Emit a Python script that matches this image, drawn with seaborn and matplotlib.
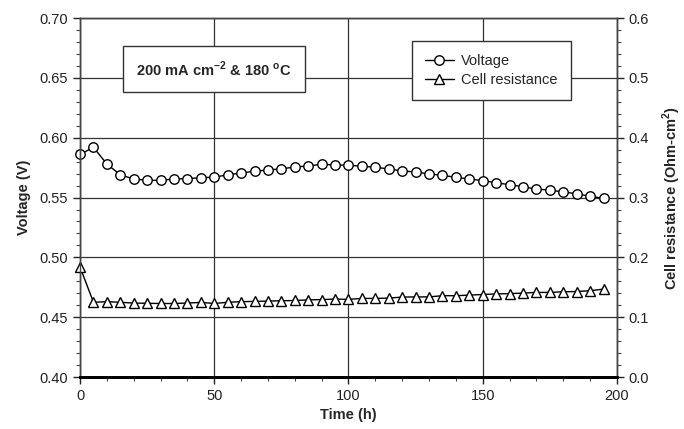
import matplotlib
matplotlib.use('Agg')
import numpy as np
import pandas as pd
import matplotlib.pyplot as plt
import seaborn as sns
from matplotlib.ticker import MultipleLocator

# Time points (h)
time_h = list(range(0, 200, 5))

# Cell voltage (V)
voltage = [0.586, 0.592, 0.578, 0.569, 0.5655, 0.5644, 0.5644, 0.5655, 0.5658, 0.5666,
           0.567, 0.569, 0.5705, 0.572, 0.573, 0.574, 0.5755, 0.5764, 0.5778, 0.5772,
           0.577, 0.5762, 0.5753, 0.5739, 0.5722, 0.5714, 0.5697, 0.5686, 0.5669, 0.5655,
           0.5641, 0.5624, 0.5607, 0.5591, 0.557, 0.5563, 0.5546, 0.5532, 0.551, 0.5494]

# Cell resistance (Ohm-cm2)
resistance = [0.184, 0.125, 0.126, 0.125, 0.1237, 0.1233, 0.123, 0.123, 0.1237, 0.1248,
              0.123, 0.125, 0.126, 0.1265, 0.127, 0.1275, 0.128, 0.129, 0.1295, 0.1304,
              0.1298, 0.1315, 0.1315, 0.132, 0.1337, 0.134, 0.134, 0.136, 0.136, 0.137,
              0.138, 0.139, 0.1395, 0.1404, 0.1415, 0.1415, 0.1426, 0.143, 0.1443, 0.147]

df = pd.DataFrame({'time': time_h, 'voltage': voltage, 'resistance': resistance})

sns.set_style('white')
plt.rcParams['font.family'] = ['Liberation Sans', 'DejaVu Sans']
plt.rcParams['mathtext.fontset'] = 'custom'
plt.rcParams['mathtext.rm'] = 'Liberation Sans'
plt.rcParams['mathtext.bf'] = 'Liberation Sans:bold'

fig = plt.figure(figsize=(6.84, 4.29), dpi=100)
ax = fig.add_axes([0.117, 0.121, 0.785, 0.837])
ax2 = ax.twinx()

sns.lineplot(data=df, x='time', y='voltage', ax=ax, color='black', lw=1.0,
             marker='o', markersize=6.8, markerfacecolor='white', markeredgecolor='black',
             markeredgewidth=1.0, label='Voltage', legend=False, clip_on=False)
sns.lineplot(data=df, x='time', y='resistance', ax=ax2, color='black', lw=1.0,
             marker='^', markersize=7, markerfacecolor='white', markeredgecolor='black',
             markeredgewidth=1.0, label='Cell resistance', legend=False, clip_on=False)

ax.set_xlim(0, 200)
ax.set_ylim(0.40, 0.70)
ax2.set_ylim(0.0, 0.6)

ax.xaxis.set_major_locator(MultipleLocator(50))
ax.xaxis.set_minor_locator(MultipleLocator(10))
ax.yaxis.set_major_locator(MultipleLocator(0.05))
ax.yaxis.set_minor_locator(MultipleLocator(0.01))
ax2.yaxis.set_major_locator(MultipleLocator(0.1))
ax2.yaxis.set_minor_locator(MultipleLocator(0.02))

ax.set_yticklabels([f'{v:.2f}' for v in ax.get_yticks()])
ax2.set_yticklabels([f'{v:.1f}' for v in ax2.get_yticks()])

ax.grid(True, which='major', color='#333333', lw=0.9)
ax.set_axisbelow(True)

for a in (ax, ax2):
    a.tick_params(which='major', direction='out', length=5, width=1, labelsize=10.5, colors='#222222')
    a.tick_params(which='minor', direction='out', length=3, width=0.8, colors='#444444')
    for s in a.spines.values():
        s.set_color('#444444')
        s.set_linewidth(1.0)
ax.spines['bottom'].set_color('black')
ax.spines['bottom'].set_linewidth(2.0)
ax2.spines['bottom'].set_linewidth(2.0)
ax2.spines['bottom'].set_color('black')
ax.tick_params(axis='x', which='both', bottom=True)
ax.tick_params(axis='y', which='both', left=True)
ax2.tick_params(axis='y', which='both', right=True)

ax.set_xlabel('Time (h)', fontsize=10.5, fontweight='bold', labelpad=4)
ax.set_ylabel('Voltage (V)', fontsize=10.5, fontweight='bold', labelpad=6)
ax2.set_ylabel('Cell resistance (Ohm-cm$^\\mathbf{2}$)', fontsize=10.5, fontweight='bold', labelpad=8)

# Condition annotation
ax.text(50, 0.6575, '200 mA cm$^{\\mathbf{-2}}$ & 180 $^{\\mathbf{o}}$C', fontsize=10.5,
        fontweight='bold', ha='center', va='center', zorder=5,
        bbox=dict(boxstyle='square,pad=0.9', facecolor='white', edgecolor='#333333', lw=1.0))

h1, l1 = ax.get_legend_handles_labels()
h2, l2 = ax2.get_legend_handles_labels()
leg = ax2.legend(h1 + h2, l1 + l2, loc='upper left', bbox_to_anchor=(0.604, 0.957),
                 fancybox=False, framealpha=1, edgecolor='#333333', fontsize=10.5,
                 handlelength=2.0, borderpad=0.9, labelspacing=0.35, handletextpad=0.5)
leg.get_frame().set_linewidth(1.0)

fig.savefig('out.png', dpi=100)
